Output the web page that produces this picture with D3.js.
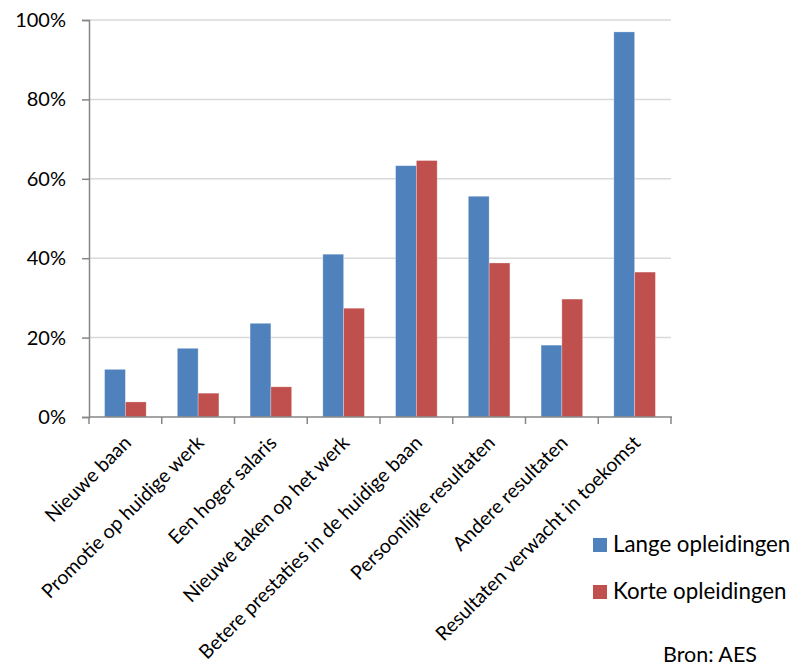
<!DOCTYPE html>
<html>
<head>
<meta charset="utf-8">
<script src="https://cdn.jsdelivr.net/npm/d3@7"></script>
<style>
  body { margin: 0; background: #fff; }
  svg { font-family: Lato, "Open Sans", sans-serif; }
</style>
</head>
<body>
<svg id="chart" width="804" height="666"></svg>
<script>
// categorieen op de x-as
const categories = [
    "Nieuwe baan",
    "Promotie op huidige werk",
    "Een hoger salaris",
    "Nieuwe taken op het werk",
    "Betere prestaties in de huidige baan",
    "Persoonlijke resultaten",
    "Andere resultaten",
    "Resultaten verwacht in toekomst"
];
// waarden in procent
const lange = [12.0, 17.3, 23.6, 41.0, 63.3, 55.6, 18.1, 97.0];
const korte = [3.8, 6.0, 7.6, 27.4, 64.6, 38.8, 29.7, 36.5];
const seriesNames = ["Lange opleidingen", "Korte opleidingen"];
const seriesColors = ["#4F81BD", "#C0504D"];
const yTicks = [0, 20, 40, 60, 80, 100];

const svg = d3.select("#chart");

const plotLeft = 89, plotRight = 671, plotTop = 20, plotBottom = 417;

//schalen
const x = d3.scaleBand().domain(categories).range([plotLeft, plotRight]).paddingInner(0).paddingOuter(0);
const y = d3.scaleLinear().domain([0, 100]).range([plotBottom, plotTop]);
const inner = d3.scaleBand().domain([0, 1]).range([0, x.bandwidth()]).paddingInner(0).paddingOuter(0.75);

//rasterlijnen
svg.append("g")
    .selectAll("line")
    .data(yTicks.filter(d => d > 0))
    .join("line")
    .attr("x1", plotLeft)
    .attr("x2", plotRight)
    .attr("y1", d => y(d))
    .attr("y2", d => y(d))
    .attr("stroke", "#D9D9D9")
    .attr("stroke-width", 1.5);

//staven
const rows = categories.map((c, i) => [lange[i], korte[i]]);
const groups = svg.append("g")
    .selectAll("g")
    .data(rows)
    .join("g")
    .attr("transform", (d, i) => "translate(" + x(categories[i]) + ",0)");

groups.selectAll("rect")
    .data(d => d.map((v, k) => ({ v: v, k: k })))
    .join("rect")
    .attr("x", d => inner(d.k))
    .attr("y", d => y(d.v))
    .attr("width", inner.bandwidth())
    .attr("height", d => plotBottom - y(d.v))
    .attr("fill", d => seriesColors[d.k])
    .attr("stroke", "rgba(255,255,255,0.35)")
    .attr("stroke-width", 0.8);

//y-as
const yAxis = svg.append("g")
    .attr("transform", "translate(" + plotLeft + ",0)")
    .call(d3.axisLeft(y).tickValues(yTicks).tickFormat(d => d + "%").tickSize(7).tickPadding(16));
yAxis.select(".domain").attr("stroke", "#868686").attr("stroke-width", 1.5);
yAxis.selectAll(".tick line").attr("stroke", "#868686").attr("stroke-width", 1.5);
yAxis.selectAll(".tick text")
    .attr("font-size", 20)
    .attr("font-family", "Lato, sans-serif")
    .attr("fill", "#000");

//x-as
const xTickPos = categories.map(c => x(c)).concat([plotRight]);
const xAxis = svg.append("g");
xAxis.append("line")
    .attr("x1", plotLeft).attr("x2", plotRight + 1)
    .attr("y1", plotBottom).attr("y2", plotBottom)
    .attr("stroke", "#868686").attr("stroke-width", 1.5);
xAxis.selectAll(".xt")
    .data(xTickPos)
    .join("line")
    .attr("class", "xt")
    .attr("x1", d => d).attr("x2", d => d)
    .attr("y1", plotBottom).attr("y2", plotBottom + 7)
    .attr("stroke", "#868686").attr("stroke-width", 1.5);

xAxis.selectAll("text")
    .data(categories)
    .join("text")
    .attr("transform", d => "translate(" + (x(d) + x.bandwidth() / 2 + 7) + "," + (plotBottom + 27) + ") rotate(-45)")
    .attr("text-anchor", "end")
    .attr("font-size", 19.5)
    .attr("fill", "#000")
    .text(d => d);

//legenda
const legend = svg.append("g")
    .selectAll("g")
    .data(seriesNames)
    .join("g")
    .attr("transform", (d, i) => "translate(593," + (538 + i * 47) + ")");
legend.append("rect")
    .attr("width", 14)
    .attr("height", 14)
    .attr("fill", (d, i) => seriesColors[i]);
legend.append("text")
    .attr("x", 20)
    .attr("y", 14)
    .attr("font-size", 22.3)
    .attr("fill", "#000")
    .text(d => d);

//bron
svg.append("text")
    .attr("x", 757)
    .attr("y", 662)
    .attr("text-anchor", "end")
    .attr("font-size", 21.5)
    .attr("fill", "#000")
    .text("Bron: AES");
</script>
</body>
</html>
